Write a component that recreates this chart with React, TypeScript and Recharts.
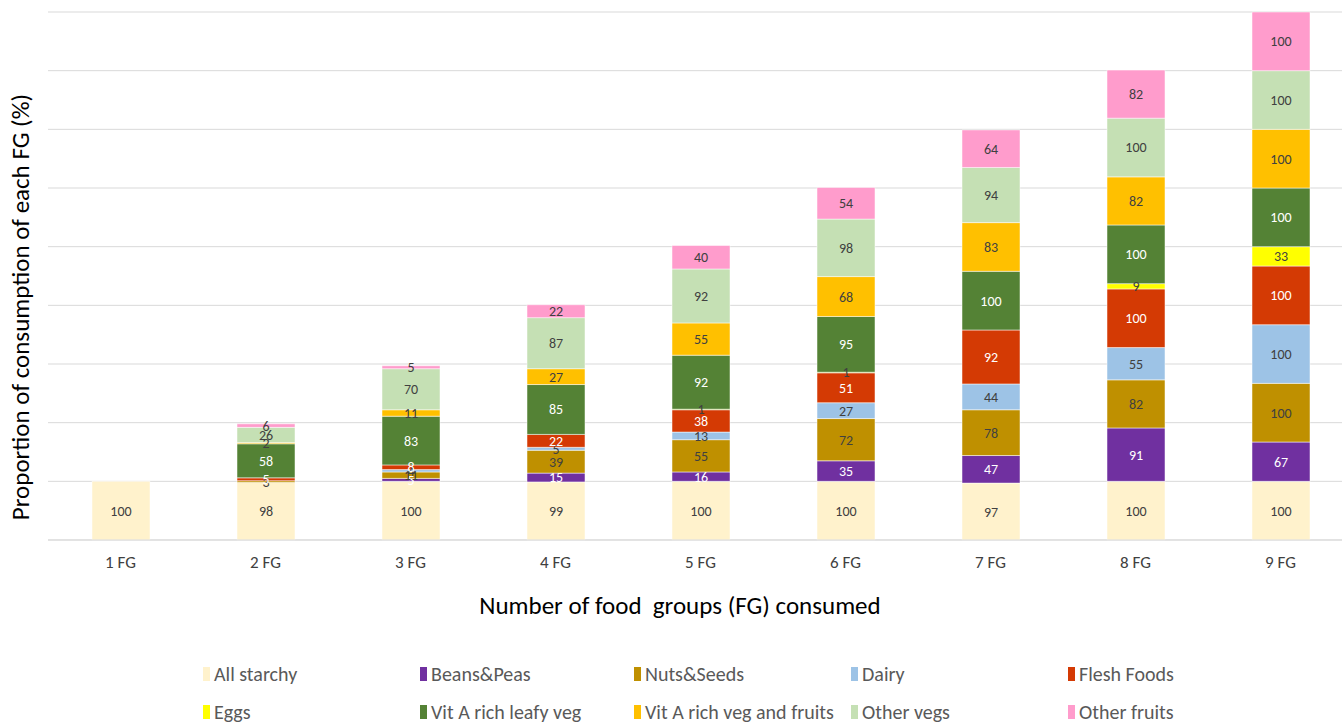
import React from "react"
import { BarChart, Bar, XAxis, YAxis, CartesianGrid, LabelList } from "recharts"

const categories = ["1 FG", "2 FG", "3 FG", "4 FG", "5 FG", "6 FG", "7 FG", "8 FG", "9 FG"]

const allStarchy = [100, 98, 100, 99, 100, 100, 97, 100, 100]
const beansPeas = [0, 0, 5, 15, 16, 35, 47, 91, 67]
const nutsSeeds = [0, 3, 11, 39, 55, 72, 78, 82, 100]
const dairy = [0, 0, 4, 5, 13, 27, 44, 55, 100]
const fleshFoods = [0, 5, 8, 22, 38, 51, 92, 100, 100]
const eggs = [0, 0, 0, 0, 1, 1, 0, 9, 33]
const leafyVeg = [0, 58, 83, 85, 92, 95, 100, 100, 100]
const vitAVegFruits = [0, 2, 11, 27, 55, 68, 83, 82, 100]
const otherVegs = [0, 26, 70, 87, 92, 98, 94, 100, 100]
const otherFruits = [0, 6, 5, 22, 40, 54, 64, 82, 100]

const yTicks = [0, 100, 200, 300, 400, 500, 600, 700, 800, 900]

const series = [
  { key: "starchy", name: "All starchy", values: allStarchy, color: "#fff2cc", text: "#404040" },
  { key: "beans", name: "Beans&Peas", values: beansPeas, color: "#7030a0", text: "#ffffff" },
  { key: "nuts", name: "Nuts&Seeds", values: nutsSeeds, color: "#bf9000", text: "#404040" },
  { key: "dairy", name: "Dairy", values: dairy, color: "#9dc3e6", text: "#404040" },
  { key: "flesh", name: "Flesh Foods", values: fleshFoods, color: "#d43a04", text: "#ffffff" },
  { key: "eggs", name: "Eggs", values: eggs, color: "#ffff00", text: "#404040" },
  { key: "leafy", name: "Vit A rich leafy veg", values: leafyVeg, color: "#548235", text: "#ffffff" },
  { key: "vita", name: "Vit A rich veg and fruits", values: vitAVegFruits, color: "#ffc000", text: "#404040" },
  { key: "othveg", name: "Other vegs", values: otherVegs, color: "#c5e0b4", text: "#404040" },
  { key: "othfruit", name: "Other fruits", values: otherFruits, color: "#ff9ccc", text: "#404040" },
]

const data = categories.map((c, i) => {
  const row: Record<string, string | number> = { name: c }
  series.forEach((s) => {
    row[s.key] = s.values[i]
  })
  return row
})

// legend grid, 5 columns x 2 rows like the Excel legend
const legendCols = [203, 420, 634, 851, 1068]
const legendRows = [674, 712]

const font = "Carlito, Calibri, Lato, sans-serif"

export default function App() {
  return (
    <div style={{ position: "absolute", left: 0, top: 0, width: 1342, height: 722, overflow: "hidden", background: "#fff", fontFamily: font }}>
      <BarChart
        width={1360}
        height={722}
        data={data}
        margin={{ top: 12, right: 7, bottom: 152, left: 48 }}
        barSize={58}
      >
        <CartesianGrid vertical={false} stroke="#d9d9d9" />
        <XAxis
          dataKey="name"
          height={30}
          axisLine={{ stroke: "#d9d9d9" }}
          tickLine={false}
          tickMargin={10}
          tick={{ fill: "#404040", fontSize: 17, fontFamily: font }}
        />
        <YAxis hide domain={[0, 900]} ticks={yTicks} />
        {series.map((s) => (
          <Bar
            key={s.key}
            dataKey={s.key}
            name={s.name}
            stackId="a"
            fill={s.color}
            stroke="#ffffff"
            strokeWidth={0.5}
            isAnimationActive={false}
          >
            <LabelList
              dataKey={s.key}
              position="center"
              fill={s.text}
              fontSize={14}
              fontFamily={font}
              formatter={(v: any) => (v ? v : "")}
            />
          </Bar>
        ))}
      </BarChart>
      <div
        style={{
          position: "absolute",
          left: 20,
          top: 307,
          transform: "translate(-50%, -50%) rotate(-90deg)",
          whiteSpace: "nowrap",
          fontSize: 25,
          color: "#000",
        }}
      >
        Proportion of consumption of each FG (%)
      </div>
      <div
        style={{
          position: "absolute",
          left: 680,
          top: 605,
          transform: "translate(-50%, -50%)",
          whiteSpace: "pre",
          fontSize: 25,
          color: "#000",
        }}
      >
        Number of food  groups (FG) consumed
      </div>
      {series.map((s, i) => (
        <div
          key={s.key}
          style={{
            position: "absolute",
            left: legendCols[i % 5],
            top: legendRows[Math.floor(i / 5)],
            transform: "translateY(-50%)",
            display: "flex",
            alignItems: "center",
            whiteSpace: "nowrap",
            fontSize: 20,
            color: "#595959",
          }}
        >
          <span style={{ display: "inline-block", width: 7, height: 14, background: s.color, marginRight: 4 }} />
          {s.name}
        </div>
      ))}
    </div>
  )
}
